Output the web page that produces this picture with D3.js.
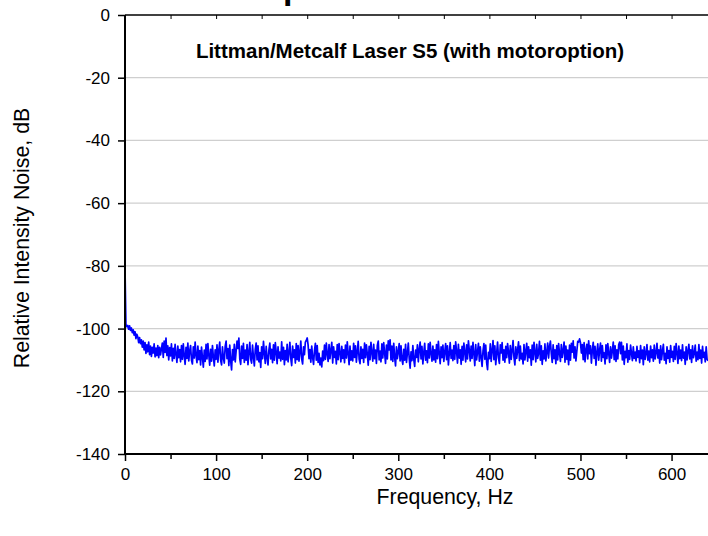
<!DOCTYPE html>
<html>
<head>
<meta charset="utf-8">
<script src="https://cdn.jsdelivr.net/npm/d3@7"></script>
<style>
  html, body { margin: 0; padding: 0; background: #fff; }
  svg { display: block; font-family: Arial, "Liberation Sans", sans-serif; }
</style>
</head>
<body>
<svg id="chart" width="708" height="536"></svg>
<script>
// Relative intensity noise spectrum, 1 Hz bins from 0 to 640 Hz (dB)
const freqStart = 0;
const freqStep = 1;
const rinValues = [
  -80.5, -98.6, -99.4, -99.0, -100.2, -99.1, -100.6, -99.8, -101.3, -100.4, -102.1, -101.0, -103.2, -101.8, -102.6, -104.5, -102.9, -104.8, -103.6, -105.9,
  -104.0, -106.8, -104.5, -107.9, -105.2, -107.4, -104.3, -108.3, -105.6, -108.9, -106.0, -107.8, -104.9, -109.0, -106.2, -108.6, -105.4, -109.3, -106.0, -108.4,
  -106.5, -104.6, -109.2, -104.0, -107.6, -103.0, -108.6, -105.5, -110.0, -106.1, -108.7, -104.9, -110.3, -106.3, -109.5, -105.0, -108.2, -110.8, -105.6, -109.3,
  -106.7, -110.6, -105.4, -109.8, -104.9, -108.7, -111.4, -106.0, -109.5, -104.6, -110.3, -107.2, -105.4, -110.1, -111.3, -105.8, -109.4, -104.3, -108.6, -110.9,
  -105.6, -109.9, -107.0, -111.6, -105.9, -109.2, -112.3, -106.9, -110.5, -105.0, -109.7, -104.8, -108.5, -111.7, -106.6, -110.4, -105.4, -109.0, -111.9, -106.8,
  -109.8, -105.2, -110.7, -106.9, -104.3, -110.1, -111.6, -105.8, -109.4, -111.0, -105.6, -104.0, -109.6, -106.4, -111.8, -105.3, -110.3, -113.2, -106.7, -110.0,
  -105.0, -110.6, -107.2, -104.0, -106.3, -103.0, -109.7, -111.4, -105.6, -109.5, -104.7, -110.8, -106.9, -110.1, -105.1, -111.5, -107.6, -104.4, -109.8, -111.0,
  -105.3, -109.1, -111.9, -106.6, -104.6, -110.0, -105.5, -110.6, -107.7, -112.4, -105.8, -109.6, -104.1, -107.9, -111.1, -105.7, -109.3, -111.6, -106.8, -104.6,
  -109.7, -106.6, -110.9, -105.2, -110.1, -104.5, -107.5, -111.2, -105.8, -109.4, -107.5, -110.3, -104.2, -109.8, -106.0, -111.5, -107.0, -110.0, -105.0, -110.6,
  -107.8, -104.4, -109.5, -111.8, -105.6, -109.2, -106.8, -111.0, -104.8, -109.9, -105.4, -110.4, -107.6, -104.0, -109.7, -111.3, -105.8, -108.3, -104.3, -103.8,
  -103.0, -105.2, -109.6, -106.7, -110.7, -105.6, -109.3, -111.4, -107.0, -104.7, -110.1, -105.4, -110.8, -107.9, -111.6, -109.4, -112.2, -107.2, -110.2, -105.3,
  -109.8, -104.6, -108.1, -110.5, -105.1, -109.6, -106.9, -104.4, -111.0, -105.8, -109.2, -107.3, -111.3, -105.1, -109.9, -104.8, -107.7, -110.6, -105.7, -109.5,
  -106.8, -110.9, -105.3, -109.4, -104.2, -108.0, -111.5, -105.6, -110.1, -107.1, -110.3, -104.7, -109.2, -105.5, -110.7, -107.4, -104.1, -109.8, -111.2, -105.8,
  -109.5, -106.6, -110.8, -104.6, -109.3, -105.2, -108.1, -111.7, -105.7, -109.9, -104.4, -107.6, -110.4, -105.0, -109.6, -106.9, -111.1, -105.4, -104.0, -110.0,
  -107.2, -110.6, -104.9, -109.4, -104.5, -107.8, -111.1, -105.3, -109.7, -103.9, -106.8, -103.6, -110.0, -105.6, -110.5, -104.7, -109.2, -111.9, -105.8, -109.6,
  -107.5, -104.8, -110.3, -105.5, -109.9, -111.4, -106.6, -110.1, -105.0, -110.8, -107.9, -104.6, -109.5, -112.6, -107.4, -110.2, -105.4, -109.8, -112.1, -106.9,
  -109.2, -105.2, -110.6, -106.7, -104.3, -109.7, -105.7, -111.3, -107.6, -104.7, -110.1, -107.1, -110.9, -104.9, -109.4, -104.4, -108.0, -110.4, -105.6, -110.0,
  -106.8, -110.7, -105.1, -109.6, -104.1, -107.8, -111.2, -105.8, -109.3, -105.3, -110.5, -107.5, -104.8, -109.9, -105.5, -111.6, -107.9, -104.5, -109.5, -106.9,
  -110.2, -105.4, -109.8, -104.2, -107.3, -111.0, -105.0, -109.4, -106.8, -111.4, -105.7, -110.1, -104.6, -107.6, -110.6, -105.2, -109.7, -103.9, -107.0, -110.3,
  -105.6, -109.5, -104.4, -108.0, -111.8, -105.1, -110.0, -107.4, -104.7, -110.4, -105.8, -109.2, -112.1, -107.2, -104.8, -109.8, -105.3, -110.9, -113.1, -107.6,
  -109.6, -104.9, -110.5, -106.9, -103.8, -109.9, -105.5, -111.5, -107.9, -104.3, -109.4, -111.1, -105.2, -107.8, -104.5, -110.1, -106.8, -110.7, -105.7, -109.3,
  -104.8, -107.5, -111.0, -105.4, -109.8, -107.0, -103.8, -109.2, -111.6, -105.8, -109.5, -106.9, -104.2, -110.2, -105.6, -109.7, -107.9, -111.3, -105.1, -110.0,
  -107.3, -104.7, -110.4, -105.8, -109.3, -106.8, -111.7, -105.3, -109.9, -104.4, -107.6, -110.6, -105.0, -109.5, -107.8, -104.1, -110.1, -105.5, -111.4, -107.1,
  -109.7, -104.9, -110.3, -107.5, -104.6, -109.4, -105.7, -104.0, -108.0, -110.8, -105.2, -109.6, -106.8, -111.2, -105.4, -110.0, -104.8, -107.8, -110.5, -105.1,
  -109.2, -107.1, -104.3, -110.7, -105.6, -109.8, -106.9, -111.5, -105.3, -110.1, -104.7, -107.5, -103.9, -109.4, -105.8, -110.3, -107.3, -104.1, -104.3, -103.3,
  -104.5, -107.8, -105.1, -109.9, -104.5, -110.6, -106.8, -105.0, -109.7, -103.9, -108.0, -105.5, -111.0, -107.0, -104.4, -109.5, -105.7, -111.7, -107.5, -104.9,
  -110.1, -106.9, -104.6, -110.4, -105.4, -109.2, -107.7, -111.3, -105.2, -109.6, -104.8, -107.9, -110.8, -105.8, -109.4, -107.1, -104.3, -109.9, -105.5, -110.5,
  -106.8, -109.7, -105.1, -104.3, -108.0, -104.4, -110.0, -105.6, -111.4, -107.3, -109.3, -104.9, -110.7, -107.0, -109.8, -105.3, -107.9, -110.2, -105.8, -109.5,
  -107.5, -110.3, -105.7, -109.2, -107.1, -110.9, -105.4, -109.6, -106.9, -111.5, -105.8, -109.8, -107.8, -105.1, -110.1, -107.2, -110.6, -105.6, -109.3, -106.8,
  -110.4, -105.3, -109.7, -107.7, -104.7, -109.4, -106.8, -111.0, -105.5, -109.9, -107.2, -105.0, -110.1, -107.9, -111.2, -105.8, -109.5, -107.0, -110.7, -105.4,
  -109.2, -107.3, -110.5, -105.7, -109.8, -104.8, -107.8, -111.1, -105.6, -109.6, -106.9, -110.2, -105.2, -109.4, -107.5, -111.4, -105.8, -110.0, -107.2, -105.0,
  -109.7, -106.8, -110.8, -105.5, -109.3, -107.9, -105.3, -110.4, -107.5, -109.9, -105.1, -109.5, -106.9, -111.0, -105.7, -109.2, -107.6, -110.6, -105.8, -109.8,
  -110.3
];

const xTicks = [0, 100, 200, 300, 400, 500, 600];
const xMinorTicks = [50, 150, 250, 350, 450, 550];
const yTicks = [0, -20, -40, -60, -80, -100, -120, -140];
const yGrid = [-20, -40, -60, -80, -100, -120];

const plotTitle = "Littman/Metcalf Laser S5 (with motoroption)";
const headTitle = "Noise Spectrum";
const xLabel = "Frequency, Hz";
const yLabel = "Relative Intensity Noise, dB";

const data = rinValues.map((v, i) => ({ f: freqStart + i * freqStep, v }));

const svg = d3.select("#chart");
const plotLeft = 125, plotRight = 708, plotTop = 15, plotBottom = 454;
const fontStack = "Arial, 'Liberation Sans', sans-serif";

const x = d3.scaleLinear().domain([0, 640]).range([plotLeft, plotRight]);
const y = d3.scaleLinear().domain([-140, 0]).range([plotBottom, plotTop]);

// horizontal grid
svg.append("g")
  .selectAll("line")
  .data(yGrid)
  .join("line")
  .attr("x1", plotLeft).attr("x2", plotRight)
  .attr("y1", d => y(d)).attr("y2", d => y(d))
  .attr("stroke", "#cfcfcf")
  .attr("stroke-width", 1.2);

// spectrum trace
svg.append("path")
  .datum(data)
  .attr("fill", "none")
  .attr("stroke", "#0000ff")
  .attr("stroke-width", 1.7)
  .attr("stroke-linejoin", "round")
  .attr("d", d3.line().x(d => x(d.f)).y(d => y(d.v)));

// top axis: line with short inward ticks every 50 Hz
const topAxis = svg.append("g").attr("transform", `translate(0,${plotTop})`)
  .call(d3.axisBottom(x).tickValues(xTicks.concat(xMinorTicks)).tickSize(4).tickFormat(""));
topAxis.select(".domain").attr("d", `M${plotLeft},0H${plotRight}`).attr("stroke-width", 1.5);

// bottom axis, major ticks with labels
const bottomAxis = svg.append("g").attr("transform", `translate(0,${plotBottom})`)
  .call(d3.axisBottom(x).tickValues(xTicks).tickSize(7).tickPadding(7).tickFormat(d => String(d)));
bottomAxis.select(".domain").attr("d", `M${plotLeft},0H${plotRight}`).attr("stroke-width", 2);
bottomAxis.selectAll(".tick line").attr("stroke-width", 1.5);
bottomAxis.selectAll("text").attr("font-size", 17).attr("font-family", fontStack).attr("fill", "#000");

// bottom axis minor ticks
svg.append("g").attr("transform", `translate(0,${plotBottom})`)
  .call(d3.axisBottom(x).tickValues(xMinorTicks).tickSize(5).tickFormat(""))
  .call(g => g.select(".domain").remove())
  .call(g => g.selectAll(".tick line").attr("stroke-width", 1.5));

// left axis
const leftAxis = svg.append("g").attr("transform", `translate(${plotLeft},0)`)
  .call(d3.axisLeft(y).tickValues(yTicks).tickSize(7).tickPadding(8).tickFormat(d => String(d)));
leftAxis.select(".domain").attr("d", `M0,${plotTop}V${plotBottom}`).attr("stroke-width", 2);
leftAxis.selectAll(".tick line").attr("stroke-width", 1.5);
leftAxis.selectAll("text").attr("font-size", 17).attr("font-family", fontStack).attr("fill", "#000");

// inner title
svg.append("text")
  .attr("x", 410).attr("y", 58)
  .attr("text-anchor", "middle")
  .attr("font-size", 20.5)
  .attr("font-weight", "bold")
  .text(plotTitle);

// heading above the frame; only its descender reaches into the page
const head = svg.append("text")
  .attr("y", -1)
  .attr("font-size", 34)
  .attr("font-weight", "bold")
  .text(headTitle);
const preP = head.node().getSubStringLength(0, headTitle.indexOf("p"));
head.attr("x", 283 - preP);

// axis titles
svg.append("text")
  .attr("x", 445).attr("y", 504)
  .attr("text-anchor", "middle")
  .attr("font-size", 21.3)
  .text(xLabel);

svg.append("text")
  .attr("transform", "translate(29,238) rotate(-90)")
  .attr("text-anchor", "middle")
  .attr("font-size", 21.3)
  .text(yLabel);
</script>
</body>
</html>
